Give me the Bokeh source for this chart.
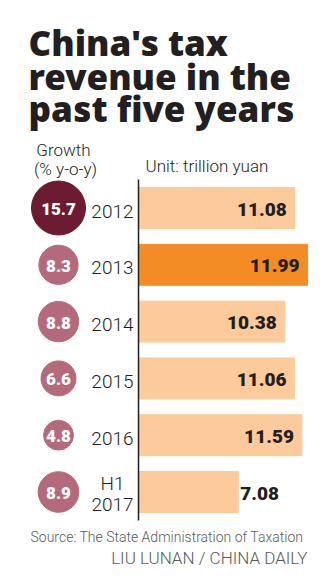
from bokeh.plotting import figure
from bokeh.models import Range1d, Label, ColumnDataSource
from bokeh.core.properties import value
from bokeh.embed import file_html
from bokeh.resources import INLINE
import math

years = ["2012", "2013", "2014", "2015", "2016", "2017"]
year_labels = ["2012", "2013", "2014", "2015", "2016", "H1\n2017"]
revenue = [11.08, 11.99, 10.38, 11.06, 11.59, 7.08]
growth = [15.7, 8.3, 8.8, 6.6, 4.8, 8.9]
revenue_labels = ["11.08", "11.99", "10.38", "11.06", "11.59", "7.08"]
growth_labels = ["15.7", "8.3", "8.8", "6.6", "4.8", "8.9"]

W, H = 325, 580
X0, PXU = 138.0, 14.1      # pixel of value 0, pixels per trillion yuan
Y0, PYU = 207.5, 56.8      # pixel of first bar centre, pixels per row

def dx(px):
    return (px - X0) / PXU

def dy(py):
    return (py - Y0) / PYU

p = figure(width=W, height=H, output_backend="svg", toolbar_location=None,
           x_range=Range1d(dx(0), dx(W)), y_range=Range1d(dy(H), dy(0)),
           min_border=0, outline_line_color=None)
p.axis.visible = False
p.grid.visible = False
p.background_fill_color = "white"
p.border_fill_color = "white"

idx = list(range(len(years)))
bar_colors = ["#fdca9b"] * len(years)
bar_colors[1] = "#f48c25"
src = ColumnDataSource(dict(y=idx, right=revenue, color=bar_colors,
                            lab=revenue_labels, g=growth, glab=growth_labels,
                            size=[2 * 27 * math.sqrt(g / 15.7) for g in growth],
                            ccol=["#6c1b31"] + ["#b56a7c"] * 5))

p.hbar(y="y", left=0, right="right", height=0.72, color="color", source=src)
p.segment(x0=[0], y0=[-0.5], x1=[0], y1=[5.5], line_color="#231f20", line_width=1.5)

# value labels
inside = ColumnDataSource(dict(x=revenue[:5], y=idx[:5], t=revenue_labels[:5]))
p.text(x="x", y="y", text="t", source=inside, x_offset=-8, text_align="right",
       text_baseline="middle", text_font_size="19px", text_font_style="bold",
       text_color="#231f20", text_font=value("Roboto Black"), y_offset=1)
outside = ColumnDataSource(dict(x=revenue[5:], y=idx[5:], t=revenue_labels[5:]))
p.text(x="x", y="y", text="t", source=outside, x_offset=2, text_align="left",
       text_baseline="middle", text_font_size="19px", text_font_style="bold",
       text_color="#231f20", text_font=value("Roboto Black"), y_offset=1)

# growth circles
cx = [dx(58)] * len(years)
src.data["cx"] = cx
p.scatter(x="cx", y="y", size="size", color="ccol", source=src)
p.text(x="cx", y="y", text="glab", source=src, text_align="center",
       text_baseline="middle", text_font_size="17px", text_font_style="bold",
       text_color="white", text_font=value("Roboto Black"), y_offset=1)

# year labels
ysrc = ColumnDataSource(dict(x=[dx(133)] * 5, y=idx[:5], t=year_labels[:5]))
p.text(x="x", y="y", text="t", source=ysrc, text_align="right", text_baseline="middle",
       text_font_size="19px", text_color="#231f20", text_font=value("Roboto Light"), y_offset=3)
p.text(x=[dx(112)], y=[idx[5]], text=[year_labels[5]], text_align="center",
       text_baseline="middle", text_font_size="19px", text_color="#231f20",
       text_font=value("Roboto Light"), text_line_height=0.95, y_offset=2)

def lab(text, px, py, size, style="normal", color="#231f20", align="left", font="Roboto"):
    p.add_layout(Label(x=dx(px), y=dy(py), text=text, text_font_size=size,
                       text_font_style=style, text_color=color, text_align=align,
                       text_baseline="alphabetic", text_font=font))

lab("China's tax", 28, 42, "35px", "bold", font="Open Sans ExtraBold")
lab("revenue in the", 28, 76, "35px", "bold", font="Open Sans ExtraBold")
lab("past five years", 28, 108, "35px", "bold", font="Open Sans ExtraBold")
lab("Growth", 63, 149, "17px", color="#231f20", align="center", font="Roboto Light")
lab("(% y-o-y)", 65, 168, "17px", color="#231f20", align="center", font="Roboto Light")
lab("Unit: trillion yuan", 145, 165, "17px", color="#231f20", font="Roboto Light")
lab("Source: The State Administration of Taxation", 30, 536, "14px", color="#58595b", font="Roboto Light")
lab("LIU LUNAN / CHINA DAILY", 307, 557, "17px", color="#58595b", align="right", font="Roboto Light")

open("out.html", "w").write(file_html(p, INLINE))
